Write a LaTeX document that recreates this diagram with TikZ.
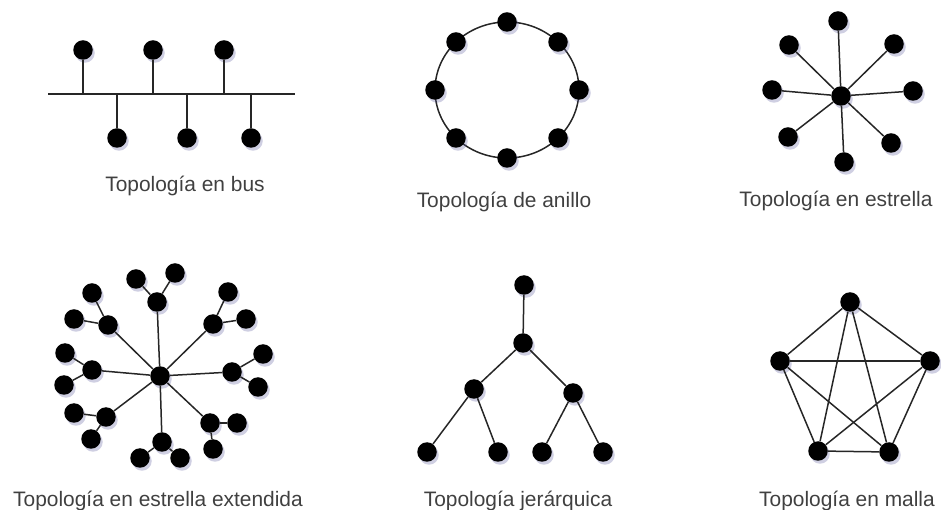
\documentclass[tikz,border=0pt]{standalone}
\usepackage{fontspec}
\setmainfont{Liberation Sans}
\usetikzlibrary{shadows}
\begin{document}
\begin{tikzpicture}[line join=bevel,
  host/.style={circle,fill=black,inner sep=0pt,minimum size=19.5bp,
    drop shadow={shadow xshift=2bp,shadow yshift=-3bp,fill=blue!25!gray,opacity=0.3}},
  conn/.style={draw=black!85,line width=1.5bp},
  toplabel/.style={anchor=base,inner sep=0pt,text=black!75,font=\fontsize{21}{25}\selectfont},
  ]
\useasboundingbox (0bp,0bp) rectangle (941bp,510bp);
%% bus
\coordinate (bus_l) at (48bp,416bp);
\coordinate (bus_r) at (295bp,416bp);
  \node (bus_0) at (83bp,460bp) [host] {};
  \node (bus_1) at (153bp,460bp) [host] {};
  \node (bus_2) at (224bp,460bp) [host] {};
  \node (bus_3) at (117bp,372bp) [host] {};
  \node (bus_4) at (187bp,372bp) [host] {};
  \node (bus_5) at (251bp,372bp) [host] {};
  \draw [conn] (bus_l) -- (bus_r);
  \draw [conn] (bus_0) -- (bus_0 |- bus_l);
  \draw [conn] (bus_1) -- (bus_1 |- bus_l);
  \draw [conn] (bus_2) -- (bus_2 |- bus_l);
  \draw [conn] (bus_3) -- (bus_3 |- bus_l);
  \draw [conn] (bus_4) -- (bus_4 |- bus_l);
  \draw [conn] (bus_5) -- (bus_5 |- bus_l);
\node (bus_label) at (185bp,318bp) [toplabel] {Topología en bus};
%% ring
\coordinate (ring_c) at (507bp,420bp);
  \draw [conn] (ring_c) ellipse (72bp and 68bp);
  \node (ring_0) at (507bp,488bp) [host] {};
  \node (ring_1) at (558bp,468bp) [host] {};
  \node (ring_2) at (579bp,420bp) [host] {};
  \node (ring_3) at (558bp,372bp) [host] {};
  \node (ring_4) at (507bp,352bp) [host] {};
  \node (ring_5) at (456bp,372bp) [host] {};
  \node (ring_6) at (435bp,420bp) [host] {};
  \node (ring_7) at (456bp,468bp) [host] {};
\node (ring_label) at (504bp,302bp) [toplabel] {Topología de anillo};
%% star
\node (star_c) at (841bp,414bp) [host] {};
  \node (star_0) at (838bp,489bp) [host] {};
  \node (star_1) at (894bp,466bp) [host] {};
  \node (star_2) at (913bp,419bp) [host] {};
  \node (star_3) at (891bp,367bp) [host] {};
  \node (star_4) at (844bp,348bp) [host] {};
  \node (star_5) at (788bp,373bp) [host] {};
  \node (star_6) at (772bp,420bp) [host] {};
  \node (star_7) at (789bp,465bp) [host] {};
  \draw [conn] (star_c) -- (star_0);
  \draw [conn] (star_c) -- (star_1);
  \draw [conn] (star_c) -- (star_2);
  \draw [conn] (star_c) -- (star_3);
  \draw [conn] (star_c) -- (star_4);
  \draw [conn] (star_c) -- (star_5);
  \draw [conn] (star_c) -- (star_6);
  \draw [conn] (star_c) -- (star_7);
\node (star_label) at (836bp,303bp) [toplabel] {Topología en estrella};
%% extended star
\node (ext_c) at (160bp,134bp) [host] {};
  \node (ext_0) at (157bp,208bp) [host] {};
  \node (ext_0a) at (136bp,231bp) [host] {};
  \node (ext_0b) at (175bp,237bp) [host] {};
  \node (ext_1) at (213bp,186bp) [host] {};
  \node (ext_1a) at (228bp,218bp) [host] {};
  \node (ext_1b) at (246bp,191bp) [host] {};
  \node (ext_2) at (232bp,138bp) [host] {};
  \node (ext_2a) at (263bp,156bp) [host] {};
  \node (ext_2b) at (258bp,123bp) [host] {};
  \node (ext_3) at (210bp,87bp) [host] {};
  \node (ext_3a) at (237bp,87bp) [host] {};
  \node (ext_3b) at (213bp,61bp) [host] {};
  \node (ext_4) at (162bp,68bp) [host] {};
  \node (ext_4a) at (140bp,52bp) [host] {};
  \node (ext_4b) at (180bp,52bp) [host] {};
  \node (ext_5) at (106bp,93bp) [host] {};
  \node (ext_5a) at (74bp,97bp) [host] {};
  \node (ext_5b) at (91bp,71bp) [host] {};
  \node (ext_6) at (92bp,140bp) [host] {};
  \node (ext_6a) at (65bp,157bp) [host] {};
  \node (ext_6b) at (64bp,125bp) [host] {};
  \node (ext_7) at (108bp,185bp) [host] {};
  \node (ext_7a) at (92bp,217bp) [host] {};
  \node (ext_7b) at (74bp,191bp) [host] {};
  \draw [conn] (ext_c) -- (ext_0);
  \draw [conn] (ext_c) -- (ext_1);
  \draw [conn] (ext_c) -- (ext_2);
  \draw [conn] (ext_c) -- (ext_3);
  \draw [conn] (ext_c) -- (ext_4);
  \draw [conn] (ext_c) -- (ext_5);
  \draw [conn] (ext_c) -- (ext_6);
  \draw [conn] (ext_c) -- (ext_7);
  \draw [conn] (ext_0) -- (ext_0a);
  \draw [conn] (ext_0) -- (ext_0b);
  \draw [conn] (ext_1) -- (ext_1a);
  \draw [conn] (ext_1) -- (ext_1b);
  \draw [conn] (ext_2) -- (ext_2a);
  \draw [conn] (ext_2) -- (ext_2b);
  \draw [conn] (ext_3) -- (ext_3a);
  \draw [conn] (ext_3) -- (ext_3b);
  \draw [conn] (ext_4) -- (ext_4a);
  \draw [conn] (ext_4) -- (ext_4b);
  \draw [conn] (ext_5) -- (ext_5a);
  \draw [conn] (ext_5) -- (ext_5b);
  \draw [conn] (ext_6) -- (ext_6a);
  \draw [conn] (ext_6) -- (ext_6b);
  \draw [conn] (ext_7) -- (ext_7a);
  \draw [conn] (ext_7) -- (ext_7b);
\node (ext_label) at (158bp,4bp) [toplabel] {Topología en estrella extendida};
%% tree
\node (tree_0) at (524bp,225bp) [host] {};
  \node (tree_1) at (523bp,167bp) [host] {};
  \node (tree_2) at (474bp,121bp) [host] {};
  \node (tree_3) at (573bp,117bp) [host] {};
  \node (tree_4) at (427bp,58bp) [host] {};
  \node (tree_5) at (498bp,58bp) [host] {};
  \node (tree_6) at (542bp,58bp) [host] {};
  \node (tree_7) at (603bp,58bp) [host] {};
  \draw [conn] (tree_0) -- (tree_1);
  \draw [conn] (tree_1) -- (tree_2);
  \draw [conn] (tree_1) -- (tree_3);
  \draw [conn] (tree_2) -- (tree_4);
  \draw [conn] (tree_2) -- (tree_5);
  \draw [conn] (tree_3) -- (tree_6);
  \draw [conn] (tree_3) -- (tree_7);
\node (tree_label) at (518bp,4bp) [toplabel] {Topología jerárquica};
%% mesh
\node (mesh_0) at (850bp,208bp) [host] {};
  \node (mesh_1) at (780bp,149bp) [host] {};
  \node (mesh_2) at (930bp,149bp) [host] {};
  \node (mesh_3) at (818bp,59bp) [host] {};
  \node (mesh_4) at (889bp,58bp) [host] {};
  \draw [conn] (mesh_0) -- (mesh_1);
  \draw [conn] (mesh_0) -- (mesh_2);
  \draw [conn] (mesh_0) -- (mesh_3);
  \draw [conn] (mesh_0) -- (mesh_4);
  \draw [conn] (mesh_1) -- (mesh_2);
  \draw [conn] (mesh_1) -- (mesh_3);
  \draw [conn] (mesh_1) -- (mesh_4);
  \draw [conn] (mesh_2) -- (mesh_3);
  \draw [conn] (mesh_2) -- (mesh_4);
  \draw [conn] (mesh_3) -- (mesh_4);
\node (mesh_label) at (847bp,4bp) [toplabel] {Topología en malla};
%
\end{tikzpicture}
\end{document}
